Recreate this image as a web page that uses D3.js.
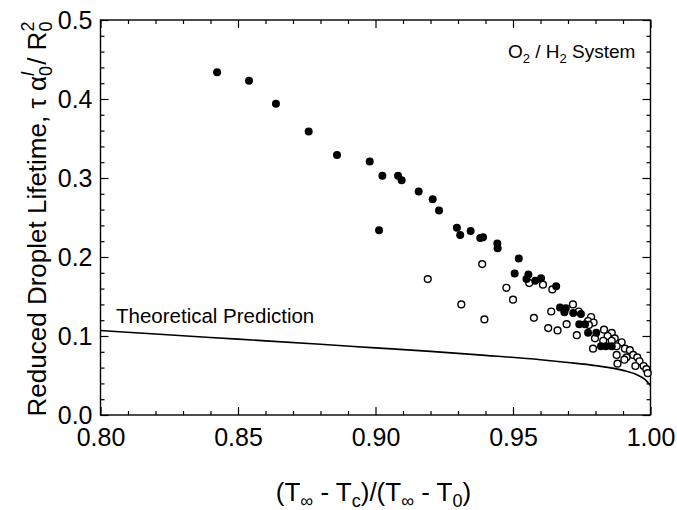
<!DOCTYPE html>
<html>
<head>
<meta charset="utf-8">
<script src="https://cdn.jsdelivr.net/npm/d3@7"></script>
<style>
  html, body { margin: 0; padding: 0; background: #fff; }
  svg { display: block; font-family: "Liberation Sans", Arial, sans-serif; }
</style>
</head>
<body>
<svg id="chart" width="677" height="510"></svg>
<script>
// ---- data ----
const filledX = [0.8424, 0.8540, 0.8638, 0.8757, 0.8860, 0.8979, 0.9025, 0.9082, 0.9095, 0.9157,
  0.9013, 0.9208, 0.9231, 0.9296, 0.9308, 0.9346, 0.9381, 0.9391, 0.9443, 0.9444,
  0.9521, 0.9506, 0.9556, 0.9549, 0.9581, 0.9602, 0.9657, 0.9671, 0.9692, 0.9687,
  0.9719, 0.9747, 0.9741, 0.9762, 0.9773, 0.9803, 0.9820, 0.9838, 0.9859];
const filledY = [0.434, 0.423, 0.394, 0.359, 0.329, 0.321, 0.303, 0.303, 0.297, 0.283,
  0.234, 0.273, 0.259, 0.237, 0.228, 0.233, 0.224, 0.225, 0.217, 0.211,
  0.198, 0.179, 0.178, 0.172, 0.170, 0.173, 0.163, 0.136, 0.135, 0.130,
  0.129, 0.128, 0.115, 0.115, 0.104, 0.104, 0.087, 0.087, 0.087];
const openX = [0.9190, 0.9388, 0.9312, 0.9396, 0.9476, 0.9500, 0.9559, 0.9609, 0.9643, 0.9576,
  0.9718, 0.9639, 0.9739, 0.9784, 0.9773, 0.9793, 0.9628, 0.9662, 0.9695, 0.9732,
  0.9776, 0.9798, 0.9791, 0.9831, 0.9859, 0.9844, 0.9870, 0.9828, 0.9859, 0.9895,
  0.9877, 0.9907, 0.9925, 0.9877, 0.9937, 0.9913, 0.9952, 0.9880, 0.9960, 0.9975,
  0.9985, 0.9990, 0.9945, 0.9905];
const openY = [0.172, 0.191, 0.140, 0.121, 0.161, 0.146, 0.167, 0.165, 0.159, 0.123,
  0.140, 0.131, 0.131, 0.124, 0.119, 0.117, 0.110, 0.107, 0.115, 0.101,
  0.114, 0.097, 0.084, 0.108, 0.104, 0.100, 0.097, 0.094, 0.094, 0.092,
  0.087, 0.084, 0.082, 0.076, 0.076, 0.073, 0.073, 0.065, 0.068, 0.062,
  0.058, 0.053, 0.062, 0.070];
const theoryX = [0.80, 0.82, 0.85, 0.88, 0.90, 0.92, 0.94, 0.96, 0.97, 0.98, 0.99, 0.995, 0.998, 1.0];
const theoryY = [0.107, 0.1025, 0.096, 0.0895, 0.085, 0.0805, 0.0755, 0.0700, 0.0665, 0.0625, 0.0565, 0.051, 0.045, 0.037];
const xMajor = [0.80, 0.85, 0.90, 0.95, 1.00];
const yMajor = [0.0, 0.1, 0.2, 0.3, 0.4, 0.5];

// ---- layout ----
const L = 100.5, R = 650.5, T = 20, B = 415;
const FONT = "Liberation Sans, Arial, sans-serif";
const svg = d3.select("#chart");
const x = d3.scaleLinear().domain([0.8, 1.0]).range([L, R]);
const y = d3.scaleLinear().domain([0, 0.5]).range([B, T]);

const xMinor = d3.range(0, 21).map(i => +(0.8 + i * 0.01).toFixed(2)).filter(v => !xMajor.some(m => Math.abs(m - v) < 1e-9));
const yMinor = d3.range(0, 26).map(i => +(i * 0.02).toFixed(2)).filter(v => !yMajor.some(m => Math.abs(m - v) < 1e-9));

function styleAxis(g) {
  g.select(".domain").remove();
  g.selectAll("line").attr("stroke", "#000").attr("stroke-width", 1.2);
}
function styleText(g) {
  g.selectAll("text").attr("font-size", 25).attr("fill", "#000").attr("font-family", FONT);
}
// bottom
svg.append("g").attr("transform", `translate(0,${B})`)
  .call(d3.axisBottom(x).tickValues(xMajor).tickSizeInner(-8).tickSizeOuter(0).tickPadding(13).tickFormat(d3.format(".2f")))
  .call(styleAxis).call(styleText);
svg.append("g").attr("transform", `translate(0,${B})`)
  .call(d3.axisBottom(x).tickValues(xMinor).tickSizeInner(-4).tickSizeOuter(0).tickFormat(""))
  .call(styleAxis);
// top
svg.append("g").attr("transform", `translate(0,${T})`)
  .call(d3.axisTop(x).tickValues(xMajor).tickSizeInner(-8).tickSizeOuter(0).tickFormat(""))
  .call(styleAxis);
svg.append("g").attr("transform", `translate(0,${T})`)
  .call(d3.axisTop(x).tickValues(xMinor).tickSizeInner(-4).tickSizeOuter(0).tickFormat(""))
  .call(styleAxis);
// left
svg.append("g").attr("transform", `translate(${L},0)`)
  .call(d3.axisLeft(y).tickValues(yMajor).tickSizeInner(-8).tickSizeOuter(0).tickPadding(8).tickFormat(d3.format(".1f")))
  .call(styleAxis).call(styleText);
svg.append("g").attr("transform", `translate(${L},0)`)
  .call(d3.axisLeft(y).tickValues(yMinor).tickSizeInner(-4).tickSizeOuter(0).tickFormat(""))
  .call(styleAxis);
// right
svg.append("g").attr("transform", `translate(${R},0)`)
  .call(d3.axisRight(y).tickValues(yMajor).tickSizeInner(-8).tickSizeOuter(0).tickFormat(""))
  .call(styleAxis);
svg.append("g").attr("transform", `translate(${R},0)`)
  .call(d3.axisRight(y).tickValues(yMinor).tickSizeInner(-4).tickSizeOuter(0).tickFormat(""))
  .call(styleAxis);
// frame
svg.append("rect").attr("x", L).attr("y", T).attr("width", R - L).attr("height", B - T)
  .attr("fill", "none").attr("stroke", "#000").attr("stroke-width", 1.4);

// theory line
const line = d3.line().x((d, i) => x(theoryX[i])).y((d, i) => y(theoryY[i])).curve(d3.curveMonotoneX);
svg.append("path").datum(theoryY).attr("d", line).attr("fill", "none").attr("stroke", "#000").attr("stroke-width", 1.6);

// open points
svg.append("g").selectAll("circle").data(openX).join("circle")
  .attr("cx", (d) => x(d)).attr("cy", (d, i) => y(openY[i])).attr("r", 3.4)
  .attr("fill", "#fff").attr("stroke", "#000").attr("stroke-width", 1.4);
// filled points
svg.append("g").selectAll("circle").data(filledX).join("circle")
  .attr("cx", (d) => x(d)).attr("cy", (d, i) => y(filledY[i])).attr("r", 4)
  .attr("fill", "#000");

// annotations
svg.append("text").attr("x", 116).attr("y", 323).attr("font-size", 20.5).attr("font-family", FONT).text("Theoretical Prediction");
const sys = svg.append("text").attr("x", 508).attr("y", 58).attr("font-size", 19).attr("font-family", FONT);
sys.append("tspan").text("O");
sys.append("tspan").attr("font-size", 13).attr("dy", 5).text("2");
sys.append("tspan").attr("dy", -5).text(" / H");
sys.append("tspan").attr("font-size", 13).attr("dy", 5).text("2");
sys.append("tspan").attr("dy", -5).text(" System");

// x title
const xt = svg.append("text").attr("x", (L + R) / 2 - 2).attr("y", 501).attr("text-anchor", "middle").attr("font-size", 26).attr("font-family", FONT);
xt.append("tspan").text("(T");
xt.append("tspan").attr("font-size", 18).attr("dy", 6).text("\u221E");
xt.append("tspan").attr("dy", -6).text(" - T");
xt.append("tspan").attr("font-size", 18).attr("dy", 6).text("c");
xt.append("tspan").attr("dy", -6).text(")/(T");
xt.append("tspan").attr("font-size", 18).attr("dy", 6).text("\u221E");
xt.append("tspan").attr("dy", -6).text(" - T");
xt.append("tspan").attr("font-size", 18).attr("dy", 6).text("0");
xt.append("tspan").attr("dy", -6).text(")");

// y title
const yt = svg.append("text").attr("transform", "translate(46,219) rotate(-90)").attr("text-anchor", "middle").attr("font-size", 26).attr("font-family", FONT);
yt.append("tspan").text("Reduced Droplet Lifetime, \u03C4 \u03B1");
yt.append("tspan").attr("font-size", 18).attr("dy", 6).text("0");
yt.append("tspan").attr("font-size", 18).attr("font-style", "italic").attr("dx", -10).attr("dy", -18).text("l");
yt.append("tspan").attr("dy", 12).text(" / R");
yt.append("tspan").attr("font-size", 18).attr("dy", 6).text("0");
yt.append("tspan").attr("font-size", 18).attr("dx", -10).attr("dy", -18).text("2");
</script>
</body>
</html>
